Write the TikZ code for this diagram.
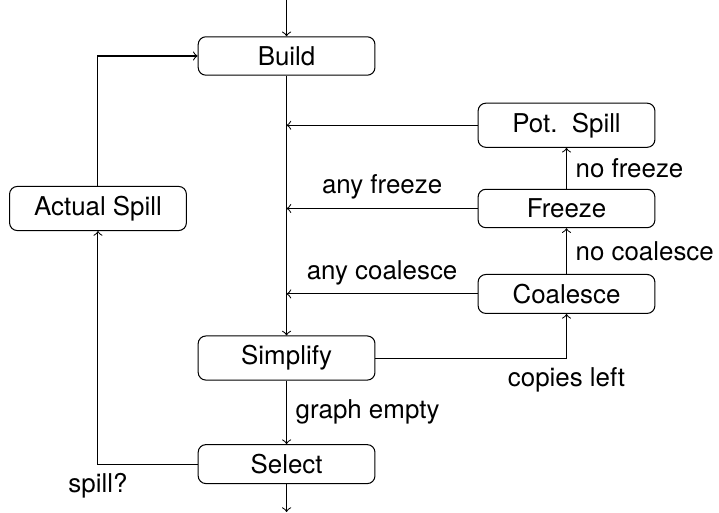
\documentclass[tikz,border=0pt]{standalone}
\usepackage{fontspec}
\setmainfont{TeX Gyre Heros}
\usepackage{tikz}

\begin{document}
\begin{tikzpicture}[box/.style={draw, rounded corners=3pt, minimum width=2.4cm, inner ysep=3.7pt}]
\useasboundingbox (0,0) rectangle (9.76,6.95);

\node [box] (bld) at (3.89,6.19) {Build};
\node [box] (pot) at (7.69,5.25) {Pot.\ \ Spill};
\node [box] (frz) at (7.69,4.12) {Freeze};
\node [box] (coal) at (7.69,2.96) {Coalesce};
\node [box] (simp) at (3.89,2.09) {Simplify};
\node [box] (sel) at (3.89,0.65) {Select};
\node [box] (act) at (1.33,4.12) {Actual Spill};
\coordinate (in) at (3.89,6.95);
\coordinate (out) at (3.89,0);

\draw [->] (in) -- (bld);
\draw [->] (bld) -- (simp);
\draw [->] (simp) -- node [right] {graph empty} (sel);
\draw [->] (sel) -- (out);

\draw [->] (pot) -- (pot -| bld);
\draw [->] (frz) -- node [above] {any freeze} (frz -| bld);
\draw [->] (coal) -- node [above] {any coalesce} (coal -| bld);
\draw [->] (frz) -- node [right] {no freeze} (pot);
\draw [->] (coal) -- node [right] {no coalesce} (frz);
\draw [->] (simp) -| node [below] {copies left} (coal);

\draw [->] (sel) -| node [below] {spill?} (act);
\draw [->] (act) |- (bld);

\end{tikzpicture}
\end{document}
